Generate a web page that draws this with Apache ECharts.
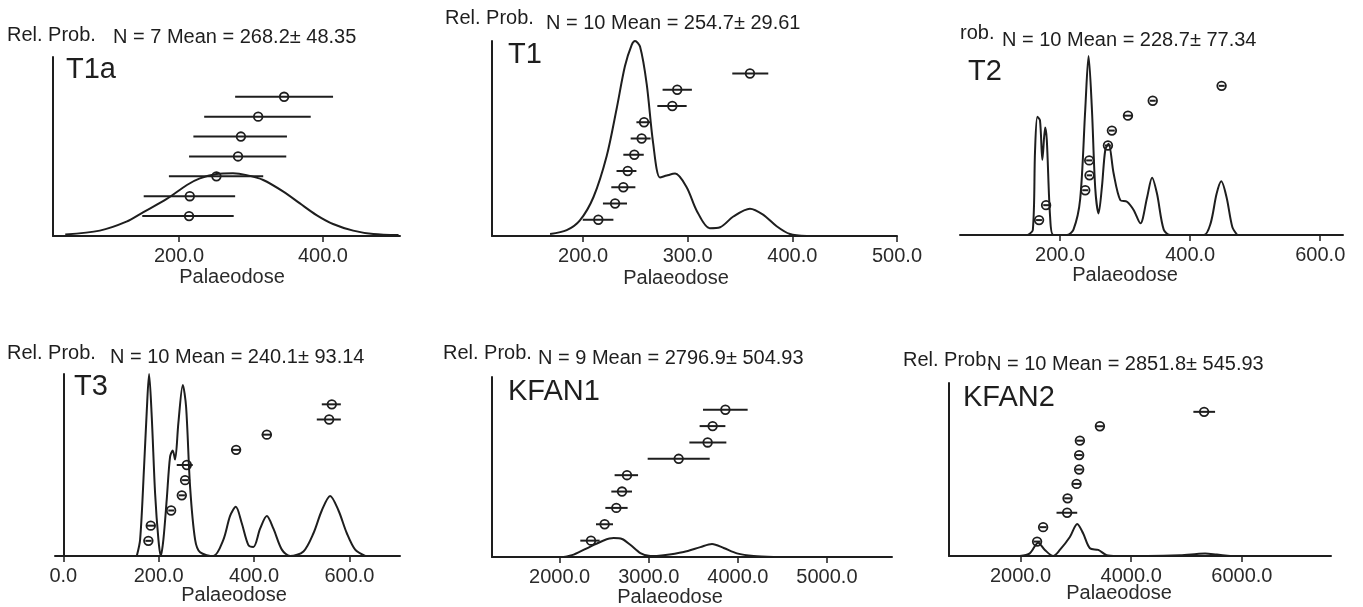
<!DOCTYPE html>
<html>
<head>
<meta charset="UTF-8" />
<title>Palaeodose</title>
<script src="https://cdn.jsdelivr.net/npm/echarts@6/dist/echarts.min.js"></script>
<style>
html,body{margin:0;padding:0;background:#fff;}
#main{width:1363px;height:607px;}
</style>
</head>
<body>
<div id="main"></div>
<script>
// ---- T1a ----
var t1aDose  = [214, 215, 252, 282, 286, 310, 346];
var t1aLow   = [149, 151, 186, 214, 220, 235, 278];
var t1aHigh  = [276, 278, 317, 349, 350, 383, 414];
var t1aCurve = [[42,0.009],[90,0.03],[127,0.08],[150,0.132],[183,0.207],[211,0.285],[229,0.322],[252,0.346],[275,0.35],[294,0.34],[317,0.313],[345,0.248],[368,0.182],[391,0.117],[414,0.067],[442,0.03],[470,0.011],[505,0.005]];
var t1aTicks = [200, 400];

// ---- T1 ----
var t1Dose  = [214.6, 230.6, 238.5, 242.7, 249, 256, 258.3, 285.3, 290, 359.5];
var t1Low   = [199.7, 219, 227, 232, 238.5, 245.5, 251, 271, 276, 342.6];
var t1High  = [229, 242, 250, 251, 258, 264.5, 264.5, 299, 304, 377];
var t1Curve = [[168.5,0.01],[184.4,0.03],[197,0.08],[210,0.2],[222.6,0.41],[232,0.65],[240,0.87],[246.5,0.98],[249.7,1.0],[254.5,0.97],[260.8,0.78],[267,0.475],[273.5,0.3],[280,0.31],[288,0.32],[299,0.25],[308.6,0.13],[321,0.04],[331,0.045],[343.6,0.1],[359.5,0.14],[372,0.11],[385,0.05],[397.7,0.01],[413.6,0]];
var t1Ticks = [200, 300, 400, 500];

// ---- T2 ----
var t2Dose  = [167.6, 178.4, 238.6, 245.2, 244.7, 273.5, 279.6, 304.3, 342.4, 448.3];
var t2Low   = [163, 174, 234, 241, 240, 269, 275, 297, 338, 444];
var t2High  = [172, 183, 243, 249, 249, 278, 284, 311, 347, 453];
var t2Curve = [[150,0],[158,0.028],[161.4,0.47],[165,0.66],[169,0.64],[172.7,0.42],[176.9,0.6],[179.5,0.53],[184.6,0.1],[189.7,0],[210,0],[220.5,0.03],[230.8,0.2],[238.6,0.7],[243.7,1.0],[248.9,0.7],[254,0.26],[259.1,0.12],[264.3,0.27],[269.4,0.475],[274.5,0.51],[282.2,0.345],[292.5,0.195],[302.8,0.186],[313,0.14],[323.4,0.065],[333.7,0.21],[341.4,0.32],[349,0.23],[359.3,0.03],[369.7,0],[421,0],[431.4,0.065],[440.6,0.23],[447.8,0.3],[456,0.21],[464.8,0.045],[472.5,0]];
var t2Ticks = [200, 400, 600];

// ---- T3 ----
var t3Dose  = [178.3, 183.3, 226, 248.4, 255.3, 258.9, 362.3, 426.7, 557.4, 563];
var t3Low   = [172, 174, 220, 242, 249, 237.8, 352, 416, 531.5, 542];
var t3High  = [185, 193, 232, 255, 262, 271.4, 372, 437, 581.9, 581.9];
var t3Curve = [[154,0],[161,0.09],[169.3,0.49],[175,0.8],[179.8,1.0],[185.4,0.765],[192.4,0.345],[199.4,0.09],[204.3,0],[209.8,0.09],[216.8,0.31],[223.8,0.545],[229.4,0.58],[234.3,0.53],[241.2,0.73],[250.5,0.94],[257.4,0.82],[265.8,0.38],[276.3,0.09],[286.8,0.02],[314.7,0],[335.7,0.09],[349.7,0.22],[361.6,0.27],[374.2,0.18],[388.1,0.06],[398.6,0.05],[412.6,0.15],[426.7,0.22],[440.6,0.15],[458.2,0.035],[475.6,0],[503.5,0.025],[524.5,0.125],[542,0.25],[559.5,0.33],[577,0.25],[594.5,0.125],[612,0.035],[633,0]];
var t3Ticks = [0, 200, 400, 600];

// ---- KFAN1 ----
var k1Dose  = [2352, 2505, 2636, 2700, 2756, 3336, 3661, 3717, 3860];
var k1Low   = [2232, 2408, 2513, 2580, 2617, 2988, 3456, 3571, 3609];
var k1High  = [2449, 2599, 2763, 2812, 2880, 3684, 3871, 3860, 4110];
var k1Curve = [[2045,0],[2157,0.013],[2345,0.058],[2494,0.092],[2606,0.105],[2700,0.1],[2793,0.068],[2906,0.022],[3018,0.005],[3167,0.01],[3392,0.028],[3579,0.055],[3710,0.072],[3841,0.05],[3990,0.02],[4177,0.005],[4402,0]];
var k1Ticks = [2000, 3000, 4000, 5000];

// ---- KFAN2 ----
var k2Dose  = [2300, 2409, 2843, 2850, 3013, 3060, 3060, 3073, 3435, 5318];
var k2Low   = [2240, 2350, 2651, 2790, 2950, 3000, 3000, 3010, 3365, 5124];
var k2High  = [2360, 2470, 3025, 2910, 3075, 3120, 3120, 3135, 3505, 5516];
var k2Curve = [[1988,0],[2168,0.015],[2319,0.077],[2440,0.035],[2590,0],[2711,0.035],[2892,0.11],[3025,0.185],[3133,0.13],[3254,0.045],[3405,0.035],[3557,0.005],[3738,0],[4883,0.005],[5185,0.012],[5336,0.015],[5548,0.008],[5788,0]];
var k2Ticks = [2000, 4000, 6000];

var ink = '#1e1e1e';
var font = '"Liberation Sans", Arial, Helvetica, sans-serif';

var panels = [
  {name:'T1a', head:'Rel. Prob.', stat:'N = 7 Mean = 268.2\u00b1 48.35', dose:t1aDose, low:t1aLow, high:t1aHigh, curve:t1aCurve, ticks:t1aTicks,
   left:53, top:57, width:347, height:179, min:25, max:507, rankMax:9, yLine:true,
   headX:7, headY:35, statX:113, statY:37, nameX:66, nameY:70, labX:232, labY:277},
  {name:'T1', head:'Rel. Prob.', stat:'N = 10 Mean = 254.7\u00b1 29.61', dose:t1Dose, low:t1Low, high:t1High, curve:t1Curve, ticks:t1Ticks,
   left:492, top:41, width:405, height:195, min:113, max:500, rankMax:12, yLine:true,
   headX:445, headY:18, statX:546, statY:23, nameX:508, nameY:55, labX:676, labY:278},
  {name:'T2', head:'rob.', stat:'N = 10 Mean = 228.7\u00b1 77.34', dose:t2Dose, low:t2Low, high:t2High, curve:t2Curve, ticks:t2Ticks,
   left:960, top:56, width:383, height:179, min:46, max:635, rankMax:12, yLine:false,
   headX:960, headY:33, statX:1002, statY:40, nameX:968, nameY:72, labX:1125, labY:275},
  {name:'T3', head:'Rel. Prob.', stat:'N = 10 Mean = 240.1\u00b1 93.14', dose:t3Dose, low:t3Low, high:t3High, curve:t3Curve, ticks:t3Ticks,
   left:55, top:374, width:345, height:182, min:-17.5, max:706, rankMax:12, yLine:true,
   headX:7, headY:353, statX:110, statY:357, nameX:74, nameY:387, labX:234, labY:595},
  {name:'KFAN1', head:'Rel. Prob.', stat:'N = 9 Mean = 2796.9\u00b1 504.93', dose:k1Dose, low:k1Low, high:k1High, curve:k1Curve, ticks:k1Ticks,
   left:492, top:377, width:400, height:180, min:1241, max:5730, rankMax:11, yLine:true,
   headX:443, headY:353, statX:538, statY:358, nameX:508, nameY:392, labX:670, labY:597},
  {name:'KFAN2', head:'Rel. Prob.', stat:'N = 10 Mean = 2851.8\u00b1 545.93', dose:k2Dose, low:k2Low, high:k2High, curve:k2Curve, ticks:k2Ticks,
   left:949, top:383, width:382, height:173, min:708, max:7611, rankMax:12, yLine:true,
   headX:903, headY:360, statX:987, statY:364, nameX:963, nameY:398, labX:1119, labY:593}
];

function drawDose(params, api) {
  var y = api.value(1);
  var c = api.coord([api.value(0), y]);
  var a = api.coord([api.value(2), y]);
  var b = api.coord([api.value(3), y]);
  return {
    type: 'group',
    children: [
      {type:'line', shape:{x1:a[0], y1:a[1], x2:b[0], y2:b[1]}, style:{stroke:ink, lineWidth:2}},
      {type:'circle', shape:{cx:c[0], cy:c[1], r:4.3}, style:{fill:'rgba(255,255,255,0)', stroke:ink, lineWidth:1.8}}
    ]
  };
}

var grid = [], xAxis = [], yAxis = [], series = [], graphic = [];

function txt(x, y, s, size) {
  graphic.push({type:'text', x:x, y:y, silent:true,
    style:{text:s, font:size + 'px ' + font, fill:ink, verticalAlign:'middle', align:'left'}});
}

panels.forEach(function (p, i) {
  grid.push({left:p.left, top:p.top, width:p.width, height:p.height});
  xAxis.push({
    type:'value', gridIndex:i, min:p.min, max:p.max,
    axisLine:{onZero:false, lineStyle:{color:ink, width:2}},
    axisTick:{show:true, length:6, customValues:p.ticks, lineStyle:{color:ink, width:1.5}},
    axisLabel:{customValues:p.ticks, margin:10, color:'#2a2a2a', fontSize:20, fontFamily:font,
      formatter:function (v) { return v.toFixed(1); }},
    splitLine:{show:false}
  });
  yAxis.push({
    type:'value', gridIndex:i, min:0, max:1,
    axisLine:{show:p.yLine, lineStyle:{color:ink, width:2}},
    axisTick:{show:false}, axisLabel:{show:false}, splitLine:{show:false}
  });
  yAxis.push({
    type:'value', gridIndex:i, min:0, max:p.rankMax, show:false,
    splitLine:{show:false}
  });
  series.push({
    type:'line', xAxisIndex:i, yAxisIndex:2 * i, data:p.curve,
    showSymbol:false, smooth:0.3, silent:true,
    lineStyle:{color:ink, width:2}
  });
  series.push({
    type:'custom', xAxisIndex:i, yAxisIndex:2 * i + 1, silent:true,
    renderItem:drawDose,
    encode:{x:[0, 2, 3], y:1},
    data:p.dose.map(function (d, k) { return [d, k + 1, p.low[k], p.high[k]]; })
  });
  txt(p.headX, p.headY, p.head, 20);
  txt(p.statX, p.statY, p.stat, 20);
  txt(p.nameX, p.nameY, p.name, 29);
  graphic.push({type:'text', x:p.labX, y:p.labY, silent:true,
    style:{text:'Palaeodose', font:'20px ' + font, fill:'#2a2a2a', verticalAlign:'middle', align:'center'}});
});

var myChart = echarts.init(document.getElementById('main'));
myChart.setOption({
  animation:false,
  backgroundColor:'#fff',
  grid:grid,
  xAxis:xAxis,
  yAxis:yAxis,
  series:series,
  graphic:graphic
});
</script>
</body>
</html>
